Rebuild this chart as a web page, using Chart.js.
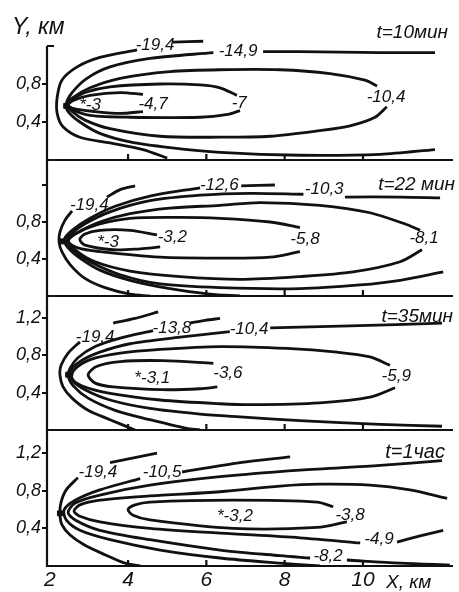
<!DOCTYPE html>
<html>
<head>
<meta charset="utf-8">
<script src="https://cdn.jsdelivr.net/npm/chart.js@4.4.1/dist/chart.umd.min.js"></script>
<style>
  html, body { margin: 0; padding: 0; background: #fff; }
  #wrap { position: relative; width: 459px; height: 592px; overflow: hidden; }
  #wrap canvas { position: absolute; left: 0; top: 0; }
  .lbl { position: absolute; font-family: 'Liberation Sans', Arial, sans-serif; font-style: italic;
         color: #111; white-space: nowrap; line-height: 1; }
</style>
</head>
<body>
<div id="wrap">
  <canvas id="p1" width="459" height="592"></canvas>
  <canvas id="p2" width="459" height="592"></canvas>
  <canvas id="p3" width="459" height="592"></canvas>
  <canvas id="p4" width="459" height="592"></canvas>
  <div class="lbl" style="left:12px;top:15px;font-size:23px">Y, км</div>
  <div class="lbl" style="right:11px;top:22px;font-size:19px">t=10мин</div>
  <div class="lbl" style="right:4px;top:174px;font-size:19px">t=22 мин</div>
  <div class="lbl" style="right:6px;top:306px;font-size:19px">t=35мин</div>
  <div class="lbl" style="right:14px;top:441px;font-size:20px">t=1час</div>
  <div class="lbl" style="left:386px;top:572px;font-size:19px">X, км</div>
</div>
<script>
// x range shared by all panels, km
const xMin = 1.93, xMax = 12.3;
const xTicks = [2, 4, 6, 8, 10];
const xMarks = [4, 6, 8, 10];

// ---- t = 10 min ----
const p1_194a = [[5.15,1.24],[5.92,1.25]];
const p1_194b = [[4.23,1.16],[3.28,1.08],[2.70,0.98],[2.31,0.84],[2.19,0.66],[2.19,0.49],[2.34,0.35],[2.77,0.24],[3.54,0.18],[4.38,0.11],[5.00,0.02]];
const p1_149a = [[7.45,1.14],[8.39,1.14],[10.44,1.13],[11.84,1.13]];
const p1_149b = [[6.18,1.13],[4.56,1.07],[3.54,0.98],[2.95,0.86],[2.57,0.71],[2.42,0.59],[2.47,0.51],[2.77,0.40],[3.28,0.28],[4.05,0.19],[5.07,0.13],[6.35,0.08],[8.39,0.05],[10.44,0.06],[11.84,0.11]];
const p1_104 = [[10.36,0.78],[10.05,0.84],[9.16,0.91],[7.88,0.95],[6.35,0.95],[5.07,0.93],[3.80,0.86],[3.03,0.76],[2.57,0.65],[2.44,0.58],[2.57,0.51],[2.90,0.42],[3.54,0.33],[4.82,0.25],[6.35,0.24],[7.63,0.25],[8.90,0.31],[9.67,0.36],[10.31,0.45],[10.61,0.56]];
const p1_7 = [[6.78,0.68],[6.35,0.76],[5.84,0.79],[4.82,0.80],[3.54,0.77],[2.90,0.71],[2.52,0.62],[2.44,0.58],[2.57,0.53],[3.03,0.47],[4.05,0.45],[5.84,0.45],[6.55,0.48],[6.86,0.52]];
const p1_47 = [[4.38,0.69],[3.80,0.71],[3.03,0.68],[2.62,0.63],[2.47,0.58],[2.62,0.54],[3.16,0.51],[3.80,0.49],[4.38,0.51]];
const p1Src = [2.42, 0.57];
const p1Text = ['-19,4', '-14,9', '-10,4', '-7', '-4,7', '*-3'];
const p1TextAt = [[4.69,1.21],[6.81,1.14],[10.59,0.66],[6.84,0.60],[4.64,0.59],[3.03,0.58]];

// ---- t = 22 min ----
const p2_194a = [[4.18,1.19],[3.80,1.15],[3.46,1.07]];
const p2_194b = [[2.57,0.92],[2.39,0.82],[2.26,0.69],[2.24,0.58],[2.31,0.48],[2.52,0.34],[2.90,0.19],[3.41,0.09],[4.05,0.02],[4.56,0]];
const p2_126a = [[6.89,1.19],[7.75,1.20]];
const p2_126b = [[5.84,1.17],[4.56,1.08],[3.67,0.97],[3.03,0.84],[2.57,0.71],[2.37,0.61],[2.47,0.52],[2.77,0.41],[3.28,0.28],[4.05,0.17],[5.07,0.08],[6.09,0.02],[6.86,0]];
const p2_103a = [[9.54,1.07],[10.95,1.07],[11.97,1.06]];
const p2_103b = [[8.48,1.10],[7.12,1.11],[5.84,1.09],[4.56,1.03],[3.54,0.91],[2.90,0.78],[2.52,0.66],[2.42,0.58],[2.57,0.50],[3.03,0.37],[3.80,0.23],[4.82,0.13],[6.35,0.09],[8.39,0.08],[9.93,0.12],[10.95,0.17],[12.05,0.26]];
const p2_81 = [[11.46,0.71],[11.13,0.77],[10.18,0.90],[8.90,0.98],[7.37,1.01],[6.35,0.98],[5.07,0.95],[4.05,0.89],[3.28,0.80],[2.77,0.70],[2.47,0.61],[2.65,0.50],[3.16,0.37],[4.05,0.27],[5.33,0.21],[6.86,0.18],[8.39,0.21],[9.75,0.26],[10.95,0.37],[11.51,0.50]];
const p2_58 = [[8.39,0.74],[7.63,0.80],[6.35,0.84],[5.33,0.85],[4.05,0.84],[3.21,0.77],[2.65,0.67],[2.47,0.59],[2.72,0.52],[3.28,0.48],[4.82,0.42],[6.35,0.41],[7.63,0.42],[8.39,0.48]];
const p2_32 = [[4.74,0.66],[4.05,0.71],[3.28,0.71],[2.90,0.67],[2.77,0.61],[2.90,0.55],[3.62,0.50],[4.31,0.51],[4.82,0.53]];
const p2Src = [2.31, 0.59];
const p2Text = ['-19,4', '-12,6', '-10,3', '-8,1', '-5,8', '-3,2', '*-3'];
const p2TextAt = [[3.01,0.98],[6.33,1.20],[9.01,1.15],[11.56,0.62],[8.52,0.61],[5.13,0.63],[3.49,0.58]];

// ---- t = 35 min ----
const p3_194a = [[3.62,1.14],[4.18,1.19],[4.77,1.26]];
const p3_194b = [[2.77,0.94],[2.47,0.82],[2.29,0.69],[2.26,0.59],[2.34,0.46],[2.57,0.34],[2.98,0.21],[3.54,0.11],[4.18,0]];
const p3_138a = [[5.58,1.14],[5.97,1.17],[6.35,1.19]];
const p3_138b = [[4.64,1.06],[3.80,0.98],[3.16,0.89],[2.72,0.77],[2.52,0.66],[2.47,0.58],[2.60,0.47],[2.98,0.34],[3.67,0.21],[4.56,0.11],[5.46,0.02],[5.84,0]];
const p3_104a = [[7.63,1.09],[9.67,1.11],[12.02,1.14]];
const p3_104b = [[6.60,1.05],[5.33,0.99],[4.05,0.92],[3.28,0.83],[2.77,0.73],[2.52,0.62],[2.57,0.53],[2.90,0.43],[3.54,0.32],[4.56,0.23],[5.84,0.17],[6.86,0.14],[8.39,0.10],[10.44,0.06],[12.02,0.04]];
const p3_59 = [[10.69,0.69],[10.18,0.78],[9.34,0.83],[8.06,0.87],[6.35,0.89],[4.82,0.86],[3.80,0.82],[3.03,0.75],[2.62,0.64],[2.57,0.55],[2.83,0.47],[3.54,0.39],[4.82,0.32],[6.35,0.28],[7.19,0.27],[8.90,0.29],[10.18,0.35],[10.82,0.45]];
const p3_36 = [[6.18,0.71],[4.89,0.74],[3.80,0.73],[3.21,0.68],[2.98,0.59],[3.16,0.50],[3.62,0.46],[4.89,0.43],[5.84,0.44],[6.28,0.46]];
const p3Src = [2.47, 0.59];
const p3Text = ['-19,4', '-13,8', '-10,4', '-5,9', '-3,6', '*-3,1'];
const p3TextAt = [[3.16,0.99],[5.12,1.09],[7.09,1.07],[10.85,0.57],[6.55,0.61],[4.62,0.55]];

// ---- t = 1 h ----
const p4_194a = [[3.54,1.10],[4.74,1.20]];
const p4_194b = [[2.72,0.94],[2.42,0.81],[2.29,0.68],[2.26,0.56],[2.31,0.44],[2.52,0.33],[2.90,0.22],[3.41,0.12],[3.92,0.03],[4.31,0]];
const p4_105a = [[5.38,1.00],[6.86,1.10],[8.14,1.16]];
const p4_105b = [[4.31,0.93],[3.28,0.81],[2.65,0.70],[2.37,0.60],[2.42,0.49],[2.77,0.38],[3.54,0.28],[4.82,0.17],[6.35,0.085],[7.88,0.03],[8.90,0]];
const p4_82a = [[9.59,0.064],[10.95,0.03],[12.22,0.01]];
const p4_82b = [[12.02,1.12],[10.44,1.07],[8.39,1.02],[6.35,0.95],[4.56,0.86],[3.28,0.755],[2.65,0.67],[2.47,0.57],[2.65,0.49],[3.28,0.38],[4.56,0.28],[6.35,0.17],[7.88,0.11],[8.65,0.085]];
const p4_49a = [[10.87,0.255],[11.46,0.32],[12.05,0.38]];
const p4_49b = [[12.15,0.72],[11.20,0.81],[10.18,0.86],[8.90,0.87],[7.88,0.85],[6.35,0.79],[4.56,0.745],[3.28,0.70],[2.77,0.65],[2.62,0.585],[2.77,0.53],[3.28,0.47],[4.56,0.40],[6.35,0.35],[8.39,0.30],[9.93,0.245]];
const p4_38 = [[9.24,0.63],[8.83,0.68],[6.68,0.70],[4.56,0.68],[4.18,0.65],[4.00,0.60],[4.13,0.54],[4.56,0.49],[6.68,0.40],[8.83,0.41],[9.59,0.47]];
const p4Src = [2.26, 0.56];
const p4Text = ['-19,4', '-10,5', '-8,2', '-4,9', '-3,8', '*-3,2'];
const p4TextAt = [[3.23,1.00],[4.87,1.00],[9.11,0.10],[10.41,0.28],[9.67,0.54],[6.73,0.53]];

const ink = '#111';
const fontFam = "'Liberation Sans', Arial, sans-serif";

const framePlugin = {
    id: 'frame',
    afterDatasetsDraw(chart, args, o) {
        const { ctx, chartArea: a } = chart;
        const x = chart.scales.x, y = chart.scales.y;
        ctx.save();
        ctx.strokeStyle = ink;
        ctx.lineWidth = 2.2;
        const yTop = o.axisTop != null ? y.getPixelForValue(o.axisTop) : a.top;
        ctx.beginPath();
        ctx.moveTo(a.left, yTop);
        ctx.lineTo(a.left, a.bottom);
        ctx.lineTo(a.right, a.bottom);
        xMarks.forEach(v => {
            const px = x.getPixelForValue(v);
            ctx.moveTo(px, a.bottom);
            ctx.lineTo(px, a.bottom - 6);
        });
        if (o.axisTop != null) {
            ctx.moveTo(a.left, yTop);
            ctx.lineTo(a.left + 7, yTop);
        }
        ctx.stroke();

        ctx.fillStyle = ink;
        ctx.font = 'italic 17px ' + fontFam;
        ctx.textAlign = 'center';
        ctx.textBaseline = 'middle';
        o.text.forEach((t, i) => {
            ctx.fillText(t, x.getPixelForValue(o.at[i][0]), y.getPixelForValue(o.at[i][1]));
        });
        ctx.restore();
    }
};

function makePanel(id, lines, src, text, at, cfg) {
    const datasets = lines.map(pts => ({
        data: pts.map(p => ({ x: p[0], y: p[1] })),
        showLine: true,
        borderColor: ink,
        borderWidth: 2.8,
        pointRadius: 0,
        tension: 0.3,
        fill: false
    }));
    datasets.push({
        data: [{ x: src[0], y: src[1] }],
        showLine: false,
        pointStyle: 'rect',
        pointRadius: 3.5,
        backgroundColor: ink,
        borderColor: ink
    });

    return new Chart(document.getElementById(id), {
        type: 'scatter',
        data: { datasets },
        options: {
            responsive: false,
            animation: false,
            events: [],
            layout: { padding: { top: cfg.top, bottom: cfg.showX ? 0 : 592 - cfg.bottom, left: 0, right: 6 } },
            plugins: {
                legend: { display: false },
                tooltip: { enabled: false },
                frame: { text, at, axisTop: cfg.axisTop }
            },
            scales: {
                x: {
                    type: 'linear', min: xMin, max: xMax,
                    display: cfg.showX,
                    afterBuildTicks: s => { s.ticks = xTicks.map(v => ({ value: v })); },
                    afterFit: s => { s.height = cfg.showX ? 26 : 0; },
                    grid: { display: false, drawTicks: false },
                    border: { display: false },
                    ticks: { color: ink, padding: 2, maxRotation: 0, autoSkip: false,
                             font: { family: fontFam, size: 21, style: 'italic' } }
                },
                y: {
                    type: 'linear', min: 0, max: cfg.yMax,
                    afterBuildTicks: s => { s.ticks = cfg.yTicks.map(v => ({ value: v })); },
                    afterFit: s => { s.width = 47; },
                    grid: { drawOnChartArea: false, tickLength: 5, color: ink, lineWidth: 2 },
                    border: { display: false },
                    ticks: {
                        color: ink, padding: 1,
                        font: { family: fontFam, size: 18, style: 'italic' },
                        callback: v => cfg.yLabeled.includes(v) ? v.toFixed(1).replace('.', ',') : ''
                    }
                }
            }
        },
        plugins: [framePlugin]
    });
}

makePanel('p1', [p1_194a, p1_194b, p1_149a, p1_149b, p1_104, p1_7, p1_47], p1Src, p1Text, p1TextAt,
    { top: 20, bottom: 160, yMax: 140 / 95, yTicks: [0.4, 0.8], yLabeled: [0.4, 0.8], axisTop: 1.2, showX: false });
makePanel('p2', [p2_194a, p2_194b, p2_126a, p2_126b, p2_103a, p2_103b, p2_81, p2_58, p2_32], p2Src, p2Text, p2TextAt,
    { top: 160, bottom: 296, yMax: 136 / 92.5, yTicks: [0.4, 0.8, 1.2], yLabeled: [0.4, 0.8], showX: false });
makePanel('p3', [p3_194a, p3_194b, p3_138a, p3_138b, p3_104a, p3_104b, p3_59, p3_36], p3Src, p3Text, p3TextAt,
    { top: 296, bottom: 430, yMax: 134 / 93.75, yTicks: [0.4, 0.8, 1.2], yLabeled: [0.4, 0.8, 1.2], showX: false });
makePanel('p4', [p4_194a, p4_194b, p4_105a, p4_105b, p4_82a, p4_82b, p4_49a, p4_49b, p4_38], p4Src, p4Text, p4TextAt,
    { top: 430, bottom: 566, yMax: 136 / 94, yTicks: [0.4, 0.8, 1.2], yLabeled: [0.4, 0.8, 1.2], showX: true });
</script>
</body>
</html>
